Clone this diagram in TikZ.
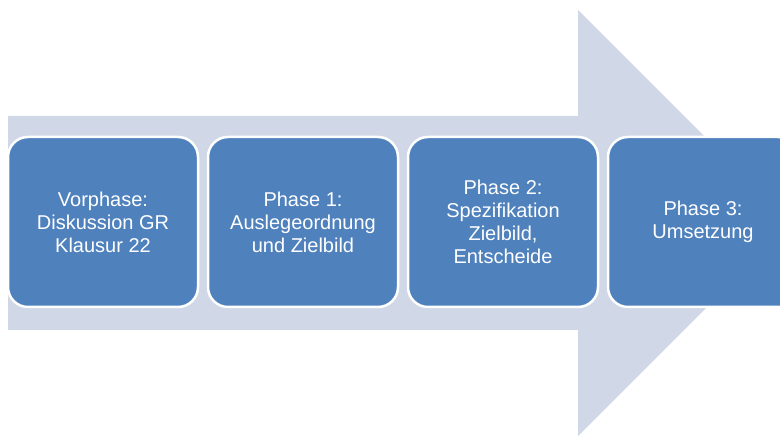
\documentclass[tikz,border=0pt]{standalone}
\usepackage{fontspec}
\setmainfont{Liberation Sans}
\usetikzlibrary{positioning}
\definecolor{arrowgray}{HTML}{D0D8E8}
\definecolor{boxblue}{HTML}{4F81BD}
\tikzset{
  phasebox/.style={draw=white, line width=2.5pt, fill=boxblue, rounded corners=20pt,
    minimum width=190pt, minimum height=170pt, text=white, align=center,
    font=\fontsize{20}{23}\selectfont, inner sep=0pt}
}
\begin{document}
\begin{tikzpicture}[x=1pt,y=1pt]
\useasboundingbox (0,0) rectangle (780,436);
\clip (0,0) rectangle (780,436);

% Draw big arrow in the background
\fill[arrowgray] (8,320) -- (578,320) -- (578,426) -- (791,213) -- (578,0)
  -- (578,106) -- (8,106) -- cycle;

% Draw phase boxes
\node[phasebox] (vorphase) at (103,214) {Vorphase:\\Diskussion GR\\Klausur 22};
\node[phasebox, right=7.5pt of vorphase] (phase1) {Phase 1:\\Auslegeordnung\\und Zielbild};
\node[phasebox, right=7.5pt of phase1] (phase2) {Phase 2:\\Spezifikation\\Zielbild,\\Entscheide};
\node[phasebox, right=7.5pt of phase2] (phase3) {Phase 3:\\Umsetzung};

\end{tikzpicture}
\end{document}
